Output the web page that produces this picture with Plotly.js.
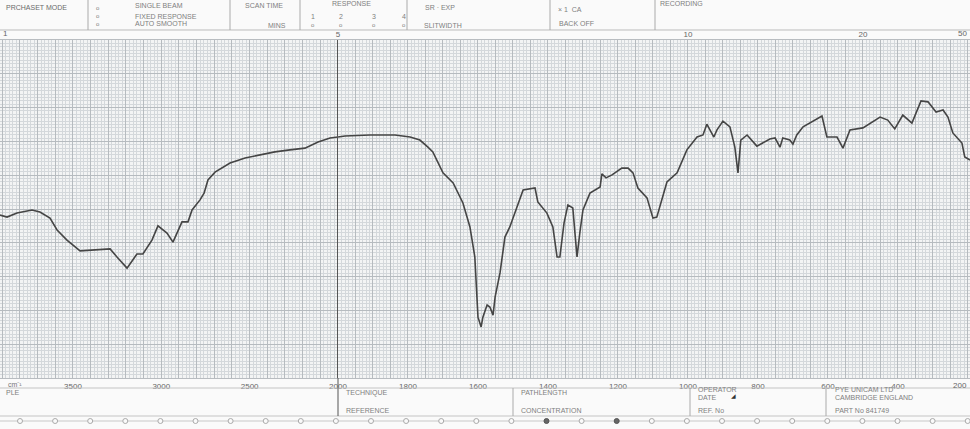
<!DOCTYPE html>
<html><head><meta charset="utf-8">
<script src="https://cdn.plot.ly/plotly-3.0.1.min.js"></script>
<style>html,body{margin:0;padding:0;background:#fafafa}#chart{width:970px;height:429px}</style>
</head><body><div id="chart"></div>
<script>
// ---- data ----
const wavenumber = [3913,3873,3817,3732,3687,3630,3590,3534,3460,3347,3290,3251,3194,3138,3104,3053,3019,2968,2934,2883,2849,2826,2781,2758,2736,2696,2611,2526,2441,2357,2272,2187,2113,2045,2000,
  1980,1909,1837,1794,1766,1743,1729,1700,1671,1643,1623,1609,1603,1600,1591,1586,1574,1566,1557,1551,1537,1523,1509,1489,1471,1437,1429,1403,1386,1374,1366,1354,1343,1329,1323,1317,1309,1300,1280,1251,1246,1234,1217,1189,1171,1157,1143,1117,1100,1089,1060,1031,1003,
  974,957,946,926,917,900,880,866,857,849,831,803,766,751,737,729,709,700,689,671,631,617,603,574,557,537,500,451,429,409,386,360,334,314,291,271,257,243,217,209,194];
const transmittance = [48.2,47.6,48.8,49.7,49.1,47.3,43.8,40.8,37.6,37.9,38.2,35.8,32.5,36.7,36.7,40.8,45.0,42.9,40.2,46.2,46.2,49.7,52.7,54.7,58.6,60.9,63.6,65.1,66.0,66.9,67.5,68.0,69.8,71.0,71.3,
  71.6,71.9,71.9,71.3,70.4,68.3,66.9,60.7,57.7,51.8,44.7,35.8,26.0,18.0,15.1,18.0,21.6,21.0,18.6,24.0,31.1,41.7,44.7,50.6,55.6,56.2,52.1,48.8,44.7,35.8,35.8,45.9,51.2,50.3,42.9,35.8,42.9,49.7,54.7,56.5,60.4,59.2,60.1,62.1,62.1,60.7,56.2,53.3,47.3,47.6,58.0,60.7,67.5,
  71.3,71.9,75.1,71.3,73.4,76.0,74.3,68.3,60.7,70.4,71.9,68.6,70.7,71.0,68.3,71.0,70.4,69.2,71.9,74.3,76.6,77.5,71.3,71.3,68.0,73.4,74.0,77.2,76.3,73.7,77.8,75.4,82.0,81.7,78.7,79.3,77.2,72.5,69.5,65.4,64.5];
const lowRangeTicks = [3500, 3000, 2500];
const highRangeTicks = [2000, 1800, 1600, 1400, 1200, 1000, 800, 600, 400, 200];
const micronTickWavenumbers = [2000, 1000, 500, 200];
const micronTickLabels = ['5', '10', '20', '50'];
const SPLIT = 2000;
const EDGE = 200; // tick at the right paper edge: its label is right-aligned so it stays readable

// ---- page geometry helpers (layout only) ----
const W = 970, TOP = 40, BOT = 378;
const px = v => v / W;
const py = v => (BOT - v) / (BOT - TOP);
const FONT = 'Liberation Sans, Arial, sans-serif';

const lowX = [], lowY = [], highX = [], highY = [];
wavenumber.forEach((w, i) => {
  if (w >= SPLIT) { lowX.push(w); lowY.push(transmittance[i]); }
  if (w <= SPLIT) { highX.push(w); highY.push(transmittance[i]); }
});
const lineStyle = {color: '#454545', width: 1.6};
const traces = [
  {x: lowX, y: lowY, xaxis: 'x', yaxis: 'y', mode: 'lines', line: lineStyle, hoverinfo: 'x+y'},
  {x: highX, y: highY, xaxis: 'x2', yaxis: 'y', mode: 'lines', line: lineStyle, hoverinfo: 'x+y'},
  // empty carrier so the top wavelength (µm) scale is drawn
  {x: micronTickWavenumbers, y: micronTickWavenumbers.map(() => null), xaxis: 'x3', yaxis: 'y', mode: 'lines', hoverinfo: 'skip'}
];

const lowGrid = []; for (let v = 3900; v > SPLIT; v -= 100) lowGrid.push(v);
const highGrid = []; for (let v = SPLIT; v >= 200; v -= 50) highGrid.push(v);
const tickFont = {family: FONT, size: 8, color: '#666'};
const minorGrid = c => ({showgrid: true, gridcolor: '#d4d8db', gridwidth: 1, tick0: 0, dtick: c, ticks: ''});
const split = px(338);

const layout = {
  width: W, height: 429,
  margin: {l: 0, r: 0, t: TOP, b: 429 - BOT},
  paper_bgcolor: '#fafafa', plot_bgcolor: '#f3f4f4',
  showlegend: false,
  xaxis: {domain: [0, split], range: [3913, SPLIT], tickmode: 'array', tickvals: lowGrid,
    ticktext: lowGrid.map(v => lowRangeTicks.includes(v) ? String(v) : ''),
    ticks: '', tickfont: tickFont, gridcolor: '#b6bbbf', gridwidth: 1, zeroline: false,
    showline: true, mirror: true, linecolor: '#b8bcc0', minor: minorGrid(20), anchor: 'y'},
  xaxis2: {domain: [split, 1], range: [SPLIT, 194], tickmode: 'array', tickvals: highGrid,
    ticktext: highGrid.map(v => (highRangeTicks.includes(v) && v !== EDGE) ? String(v) : ''),
    ticks: '', tickfont: tickFont, gridcolor: '#b6bbbf', gridwidth: 1, zeroline: false,
    showline: true, mirror: true, linecolor: '#b8bcc0', minor: minorGrid(10), anchor: 'y'},
  xaxis3: {overlaying: 'x2', side: 'top', anchor: 'y', range: [SPLIT, 194], tickmode: 'array',
    tickvals: micronTickWavenumbers,
    ticktext: micronTickWavenumbers.map((v, i) => v !== EDGE ? micronTickLabels[i] : ''),
    ticks: '', showgrid: false, zeroline: false, showline: false, tickfont: tickFont},
  yaxis: {domain: [0, 1], range: [0, 100], anchor: 'x2', showticklabels: false, ticks: '',
    dtick: 10, gridcolor: '#b6bbbf', zeroline: false, showline: true, linecolor: '#555', linewidth: 1.2,
    minor: minorGrid(1)},
  shapes: [], annotations: []
};

function hline(y, x0 = 0, x1 = W, c = '#bbb') { layout.shapes.push({type: 'line', xref: 'paper', yref: 'paper', x0: px(x0), x1: px(x1), y0: py(y), y1: py(y), line: {color: c, width: 1}}); }
function vline(x, y0, y1, c = '#aaa') { layout.shapes.push({type: 'line', xref: 'paper', yref: 'paper', x0: px(x), x1: px(x), y0: py(y0), y1: py(y1), line: {color: c, width: 1}}); }
function label(t, x, y, size = 7, color = '#808080', anchor = 'left') { layout.annotations.push({text: t, x: px(x), y: py(y), xref: 'paper', yref: 'paper', xanchor: anchor, yanchor: 'middle', showarrow: false, font: {family: FONT, size, color}}); }

// edge labels of both scales, kept inside the page
label(String(EDGE), W - 1, 386, 8, '#666', 'right');
label(micronTickLabels[micronTickWavenumbers.indexOf(EDGE)], W - 1, 34, 8, '#666', 'right');

// header block
hline(30);
[88, 230, 300, 407, 550, 655].forEach(x => vline(x, 0, 30));
label('PRCHASET MODE', 4, 7, 7, '#6a6a6a');
[8, 16, 24].forEach(y => label('o', 94, y, 6));
label('SINGLE BEAM', 133, 6); label('FIXED RESPONSE', 133, 16); label('AUTO SMOOTH', 133, 24);
label('SCAN TIME', 243, 6); label('MINS', 266, 25);
label('RESPONSE', 330, 4);
[['1', 309], ['2', 337], ['3', 370], ['4', 400]].forEach(([t, x]) => { label(t, x, 16); label('o', x, 25, 6); });
label('SR · EXP', 423, 7); label('SLITWIDTH', 422, 25);
label('× 1  CA', 556, 9); label('BACK OFF', 557, 23);
label('RECORDING', 658, 4);
label('1', 1, 34, 8, '#666');

// footer block
hline(388, 0, W, '#c4c4c4');
hline(416, 0, W, '#c4c4c4');
vline(338, BOT, 416, '#555');
[513, 690, 826].forEach(x => vline(x, 388, 416));
label('cm⁻¹', 6, 384, 7, '#777');
label('PLE', 4, 393);
label('TECHNIQUE', 344, 393); label('REFERENCE', 344, 410);
label('PATHLENGTH', 519, 392); label('CONCENTRATION', 519, 410);
label('OPERATOR', 696, 389); label('DATE', 696, 397); label('◢', 729, 396, 6, '#333'); label('REF. No', 696, 410);
label('PYE UNICAM LTD', 833, 389); label('CAMBRIDGE ENGLAND', 833, 397); label('PART No 841749', 833, 410);

// perforation row
hline(421, 0, W, '#c8c8c8');
for (let x = 20; x < W; x += 35.1) {
  const dark = [15, 17].includes(Math.round((x - 20) / 35.1));
  layout.shapes.push({type: 'circle', xref: 'paper', yref: 'paper', x0: px(x - 2.5), x1: px(x + 2.5), y0: py(423.5), y1: py(418.5),
    line: {color: dark ? '#555' : '#aaa', width: 1}, fillcolor: dark ? '#666' : '#fafafa'});
}

Plotly.newPlot('chart', traces, layout, {displayModeBar: false, staticPlot: true});
</script>
</body></html>
